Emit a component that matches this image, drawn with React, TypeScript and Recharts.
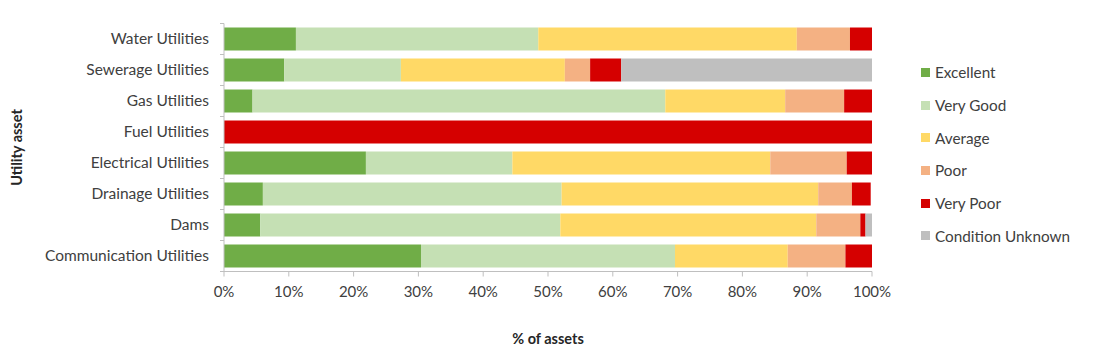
import React from "react";
import { BarChart, Bar, XAxis, YAxis, Legend, Label } from "recharts";

// Utility asset categories (top to bottom)
const categories = [
  "Water Utilities",
  "Sewerage Utilities",
  "Gas Utilities",
  "Fuel Utilities",
  "Electrical Utilities",
  "Drainage Utilities",
  "Dams",
  "Communication Utilities",
];

// % of assets per condition rating
const excellent = [11.1, 9.3, 4.4, 0, 21.9, 6.0, 5.6, 30.4];
const veryGood = [37.4, 18.0, 63.7, 0, 22.6, 46.1, 46.3, 39.2];
const average = [39.9, 25.3, 18.5, 0, 39.8, 39.6, 39.5, 17.4];
const poor = [8.2, 3.9, 9.1, 0, 11.8, 5.2, 6.8, 8.9];
const veryPoor = [3.4, 4.8, 4.3, 100, 3.9, 2.9, 0.8, 4.1];
const unknown = [0, 38.7, 0, 0, 0, 0, 1.0, 0];

const xTicks = [0, 10, 20, 30, 40, 50, 60, 70, 80, 90, 100];

const series = [
  { key: "excellent", name: "Excellent", color: "#70AD47" },
  { key: "veryGood", name: "Very Good", color: "#C5E0B4" },
  { key: "average", name: "Average", color: "#FFD966" },
  { key: "poor", name: "Poor", color: "#F4B183" },
  { key: "veryPoor", name: "Very Poor", color: "#D50000" },
  { key: "unknown", name: "Condition Unknown", color: "#BFBFBF" },
];

const data = categories.map((name, i) => ({
  name,
  excellent: excellent[i],
  veryGood: veryGood[i],
  average: average[i],
  poor: poor[i],
  veryPoor: veryPoor[i],
  unknown: unknown[i],
}));

const FONT = "Lato, 'Open Sans', sans-serif";
const AXIS_GREY = "#BFBFBF";
const HALF_BAND = 15.5;

// category label at band centre, Excel-style tick marks at band edges
const CategoryTick = (props: any) => {
  const { x, y, payload, index } = props;
  return (
    <g>
      <line x1={x - 4} x2={x} y1={y - HALF_BAND} y2={y - HALF_BAND} stroke={AXIS_GREY} />
      {index === categories.length - 1 && (
        <line x1={x - 4} x2={x} y1={y + HALF_BAND} y2={y + HALF_BAND} stroke={AXIS_GREY} />
      )}
      <text x={x - 15} y={y} dy={5} textAnchor="end" fill="#404040" fontSize={15.5} fontFamily={FONT}>
        {payload.value}
      </text>
    </g>
  );
};

const LegendContent = () => (
  <div style={{ fontFamily: FONT, fontSize: 15.3, color: "#404040" }}>
    {series.map((s) => (
      <div key={s.key} style={{ height: 32.7, display: "flex", alignItems: "center" }}>
        <span style={{ width: 9, height: 9, background: s.color, display: "inline-block", marginRight: 5 }} />
        <span>{s.name}</span>
      </div>
    ))}
  </div>
);

export default function App() {
  return (
    <BarChart
      width={1085}
      height={347}
      data={data}
      layout="vertical"
      margin={{ top: 15.5, right: 221, bottom: 53.5, left: 0 }}
      barSize={23}
    >
      <XAxis
        type="number"
        domain={[0, 100]}
        ticks={xTicks}
        tickFormatter={(v) => `${v}%`}
        interval={0}
        height={30}
        stroke={AXIS_GREY}
        tickSize={5}
        tickMargin={10}
        tick={{ fill: "#404040", fontSize: 15, fontFamily: FONT }}
      >
        <Label
          content={(p: any) => (
            <text
              x={p.viewBox.x + p.viewBox.width / 2}
              y={336}
              textAnchor="middle"
              fontWeight="bold"
              fontSize={14.5}
              fontFamily={FONT}
              fill="#262626"
            >
              % of assets
            </text>
          )}
        />
      </XAxis>
      <YAxis
        type="category"
        dataKey="name"
        width={216}
        stroke={AXIS_GREY}
        tickLine={false}
        tickSize={0}
        tickMargin={0}
        tick={<CategoryTick />}
        interval={0}
      >
        <Label
          content={(p: any) => {
            const cy = p.viewBox.y + p.viewBox.height / 2;
            return (
              <text
                x={14}
                y={cy}
                transform={`rotate(-90 14 ${cy})`}
                textAnchor="middle"
                fontWeight="bold"
                fontSize={14.5}
                fontFamily={FONT}
                fill="#262626"
              >
                Utility asset
              </text>
            );
          }}
        />
      </YAxis>
      <Legend
        layout="vertical"
        align="center"
        verticalAlign="middle"
        content={<LegendContent />}
        wrapperStyle={{ left: 913, top: 48, width: 170 }}
      />
      {series.map((s) => (
        <Bar
          key={s.key}
          dataKey={s.key}
          name={s.name}
          stackId="a"
          fill={s.color}
          isAnimationActive={false}
        />
      ))}
    </BarChart>
  );
}
